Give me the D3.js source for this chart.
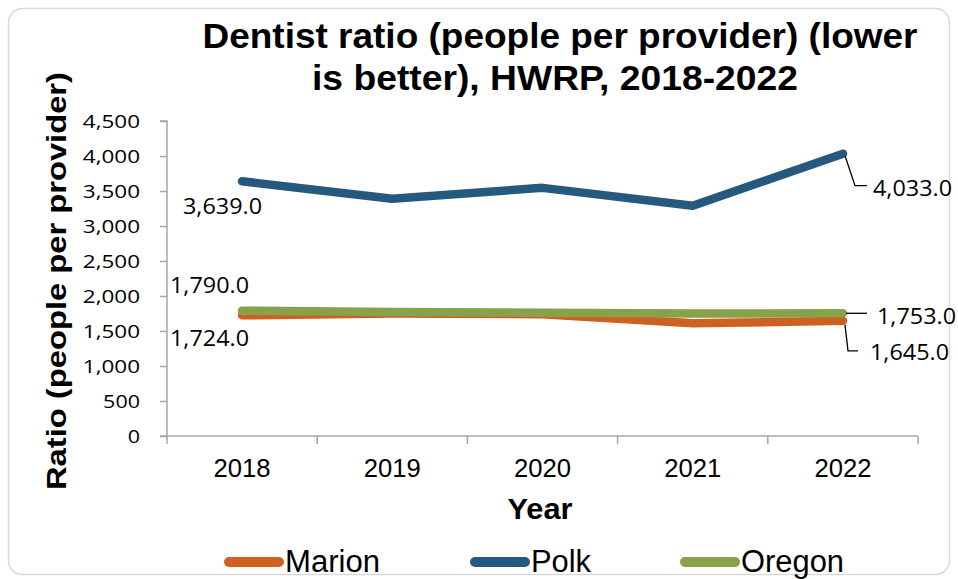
<!DOCTYPE html>
<html><head><meta charset="utf-8">
<script src="https://cdn.jsdelivr.net/npm/d3@7"></script>
<style>body{margin:0;background:#fff}svg{display:block}</style>
</head><body><svg id="c" width="958" height="579"></svg>
<script>
const years = ["2018","2019","2020","2021","2022"];
const marion = [1724, 1750, 1740, 1610, 1645];
const polk = [3639, 3390, 3545, 3290, 4033];
const oregon = [1790, 1772, 1762, 1750, 1753];
const yTicks = [0,500,1000,1500,2000,2500,3000,3500,4000,4500];
const seriesNames = ["Marion","Polk","Oregon"];
const seriesColors = ["#d0601f","#255a7e","#87a24b"];

const svg = d3.select("#c");
svg.append("rect").attr("x",8.5).attr("y",8.5).attr("width",941).attr("height",566)
  .attr("rx",14).attr("fill","#fff").attr("stroke","#d9d9d9").attr("stroke-width",1.5);

const x = d3.scalePoint().domain(years).range([242,843]).padding(0);
const xb = d3.scaleLinear().domain([0,5]).range([167,918]);
const y = d3.scaleLinear().domain([0,4500]).range([436,121]);

const numWidth = (s, dw, pw) => s.replace(/[^0-9]/g,"").length*dw + s.replace(/[0-9]/g,"").length*pw;

// title
const title = svg.append("text").attr("text-anchor","middle")
  .attr("font-family","Liberation Sans, Arial, sans-serif").attr("font-weight","bold")
  .attr("font-size",35).attr("fill","#000");
title.append("tspan").attr("x",560).attr("y",48).text("Dentist ratio (people per provider) (lower")
  .attr("textLength",715).attr("lengthAdjust","spacingAndGlyphs");
title.append("tspan").attr("x",555).attr("y",90).text("is better), HWRP, 2018-2022")
  .attr("textLength",486).attr("lengthAdjust","spacingAndGlyphs");

// y axis
const yAxis = d3.axisLeft(y).tickValues(yTicks).tickSize(7).tickPadding(20)
  .tickFormat(d3.format(","));
const gy = svg.append("g").attr("transform","translate(167,0)").call(yAxis);
gy.select(".domain").attr("stroke","#a6a6a6").attr("stroke-width",1.5).attr("d","M-7,121H0V436H-7");
gy.selectAll(".tick line").attr("stroke","#a6a6a6").attr("stroke-width",1.5);
gy.selectAll(".tick text").attr("font-family","Open Sans, sans-serif").attr("font-size",18.5).attr("fill","#000")
  .attr("dy","0.36em")
  .attr("textLength",function(){return numWidth(this.textContent,12.3,8);})
  .attr("lengthAdjust","spacingAndGlyphs");

// x axis
const gx = svg.append("g").attr("transform","translate(0,436)");
gx.append("line").attr("x1",167).attr("x2",918).attr("stroke","#a6a6a6").attr("stroke-width",1.5);
gx.selectAll(".xt").data(d3.range(6)).join("line").attr("class","xt")
  .attr("x1",d=>xb(d)).attr("x2",d=>xb(d)).attr("y1",0).attr("y2",8)
  .attr("stroke","#a6a6a6").attr("stroke-width",1.5);
gx.selectAll(".xl").data(years).join("text").attr("class","xl")
  .attr("x",d=>x(d)).attr("y",41).attr("text-anchor","middle")
  .attr("font-family","Liberation Sans, Arial, sans-serif").attr("font-size",26)
  .attr("textLength",57).attr("lengthAdjust","spacingAndGlyphs").text(d=>d);

// axis titles
svg.append("text").attr("x",540).attr("y",519).attr("text-anchor","middle")
  .attr("font-family","Liberation Sans, Arial, sans-serif").attr("font-weight","bold").attr("font-size",30)
  .attr("textLength",65).attr("lengthAdjust","spacingAndGlyphs").text("Year");
svg.append("text").attr("transform","translate(66,281) rotate(-90)").attr("text-anchor","middle")
  .attr("font-family","Liberation Sans, Arial, sans-serif").attr("font-weight","bold").attr("font-size",27.5)
  .attr("textLength",418).attr("lengthAdjust","spacingAndGlyphs").text("Ratio (people per provider)");

// lines
const line = d3.line().x((d,i)=>x(years[i])).y(d=>y(d));
const data = [marion, polk, oregon];
[1,0,2].forEach(k=>{
  svg.append("path").attr("d",line(data[k])).attr("fill","none")
    .attr("stroke",seriesColors[k]).attr("stroke-width",8.5)
    .attr("stroke-linecap","round").attr("stroke-linejoin","round");
});

// data labels
const fmt = d3.format(",.1f");
const lab = (t,xx,yy)=>svg.append("text").attr("x",xx).attr("y",yy)
  .attr("font-family","Open Sans, sans-serif").attr("font-size",21).attr("fill","#000")
  .attr("textLength",numWidth(t,13,7)).attr("lengthAdjust","spacingAndGlyphs").text(t);
lab(fmt(polk[0]), x("2018")-59, y(polk[0])+33);
lab(fmt(oregon[0]), x("2018")-72, y(oregon[0])-18);
lab(fmt(marion[0]), x("2018")-72, y(marion[0])+31);
lab(fmt(polk[4]), x("2022")+30, y(polk[4])+42);
lab(fmt(oregon[4]), x("2022")+34, y(oregon[4])+11);
lab(fmt(marion[4]), x("2022")+27, y(marion[4])+39);
// leader lines
const ll = (pts)=>svg.append("path").attr("d",d3.line()(pts)).attr("fill","none").attr("stroke","#000").attr("stroke-width",1.3);
ll([[x("2022")+2,y(polk[4])+2],[x("2022")+12,y(polk[4])+32],[x("2022")+24,y(polk[4])+32]]);
ll([[x("2022")+3,y(oregon[4])],[x("2022")+24,y(oregon[4])]]);
ll([[x("2022")+2,y(marion[4])+4],[x("2022")+5,y(marion[4])+30],[x("2022")+15,y(marion[4])+30]]);

// legend
const legX = [224, 470, 680];
seriesNames.forEach((n,i)=>{
  svg.append("line").attr("x1",legX[i]+5).attr("x2",legX[i]+55).attr("y1",562).attr("y2",562)
    .attr("stroke",seriesColors[i]).attr("stroke-width",10).attr("stroke-linecap","round");
  svg.append("text").attr("x",legX[i]+61).attr("y",572)
    .attr("font-family","Liberation Sans, Arial, sans-serif").attr("font-size",31)
    .attr("textLength",[95,60,103][i]).attr("lengthAdjust","spacingAndGlyphs").text(n);
});
</script></body></html>
